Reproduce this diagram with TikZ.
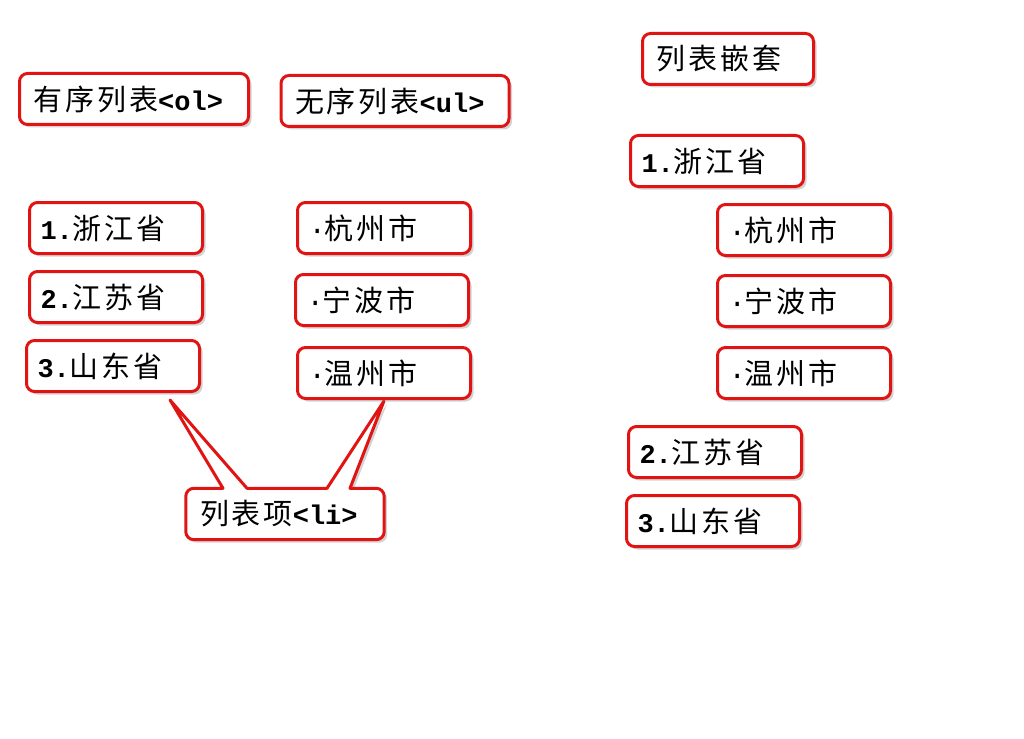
\documentclass[tikz,border=0pt]{standalone}
\usepackage{fontspec}
\usetikzlibrary{shadows,backgrounds}
\newfontfamily\cjk[LetterSpace=10]{Noto Sans CJK SC}
\newfontfamily\mono{Liberation Mono}[BoldFont={Liberation Mono Bold}]
\definecolor{boxred}{RGB}{225,20,20}
\newcommand{\zh}[1]{{\cjk #1}}
\newcommand{\tg}[1]{{\mono\bfseries\fontsize{27}{30}\selectfont #1}}
\newcommand{\dt}{\kern-3pt{\mono ·}\kern-1pt}

\begin{document}
\begin{tikzpicture}[x=1pt,y=-1pt,
    boxshape/.style={minimum height=51pt, inner xsep=14pt, text width=#1, align=left,
        font=\fontsize{29}{32}\selectfont},
    box/.style={boxshape=#1, draw=boxred, line width=3pt, rounded corners=8pt, fill=white,
        drop shadow={shadow xshift=3pt, shadow yshift=-3pt, opacity=.35}},
    box/.default=145pt,
    calloutline/.style={draw=boxred, line width=3pt, line join=round, fill=white,
        drop shadow={shadow xshift=3pt, shadow yshift=-3pt, opacity=.35}}]
    \useasboundingbox (0,0) rectangle (1024,738);

    % ordered list
    \node[box=201pt] (ol) at (134,99) {\zh{有序列表}\tg{<ol>}};
    \node[box] (a1) at (116,228) {\kern-3pt\tg{1.}\zh{浙江省}};
    \node[box] (a2) at (116,297) {\kern-3pt\tg{2.}\zh{江苏省}};
    \node[box] (a3) at (113,366) {\kern-3pt\tg{3.}\zh{山东省}};

    % unordered list
    \node[box=200pt] (ul) at (395,101) {\zh{无序列表}\tg{<ul>}};
    \node[box] (b1) at (384,228) {\dt\zh{杭州市}};
    \node[box] (b2) at (382,300) {\dt\zh{宁波市}};
    \node[box] (b3) at (384,373) {\dt\zh{温州市}};

    % list item callout
    \node[boxshape=170pt] (li) at (285,514) {\zh{列表项}\tg{<li>}};
    \coordinate (ltip) at (170,400);
    \coordinate (rtip) at ([yshift=-1pt]b3.south);
    \begin{scope}[on background layer]
    \draw[calloutline] ([xshift=-62pt]li.north) -- (ltip) -- ([xshift=-38pt]li.north)
        -- ([xshift=42pt]li.north) -- (rtip) -- ([xshift=65pt]li.north)
        [rounded corners=8pt] -- (li.north east) -- (li.south east)
        -- (li.south west) -- (li.north west) [sharp corners] -- cycle;
    \end{scope}

    % nested list
    \node[box=143pt] (nest) at (728,59) {\zh{列表嵌套}};
    \node[box] (c1) at (717,161) {\kern-3pt\tg{1.}\zh{浙江省}};
    \node[box] (c11) at (804,230) {\dt\zh{杭州市}};
    \node[box] (c12) at (804,301) {\dt\zh{宁波市}};
    \node[box] (c13) at (804,373) {\dt\zh{温州市}};
    \node[box] (c2) at (715,452) {\kern-3pt\tg{2.}\zh{江苏省}};
    \node[box] (c3) at (713,521) {\kern-3pt\tg{3.}\zh{山东省}};
\end{tikzpicture}
\end{document}
